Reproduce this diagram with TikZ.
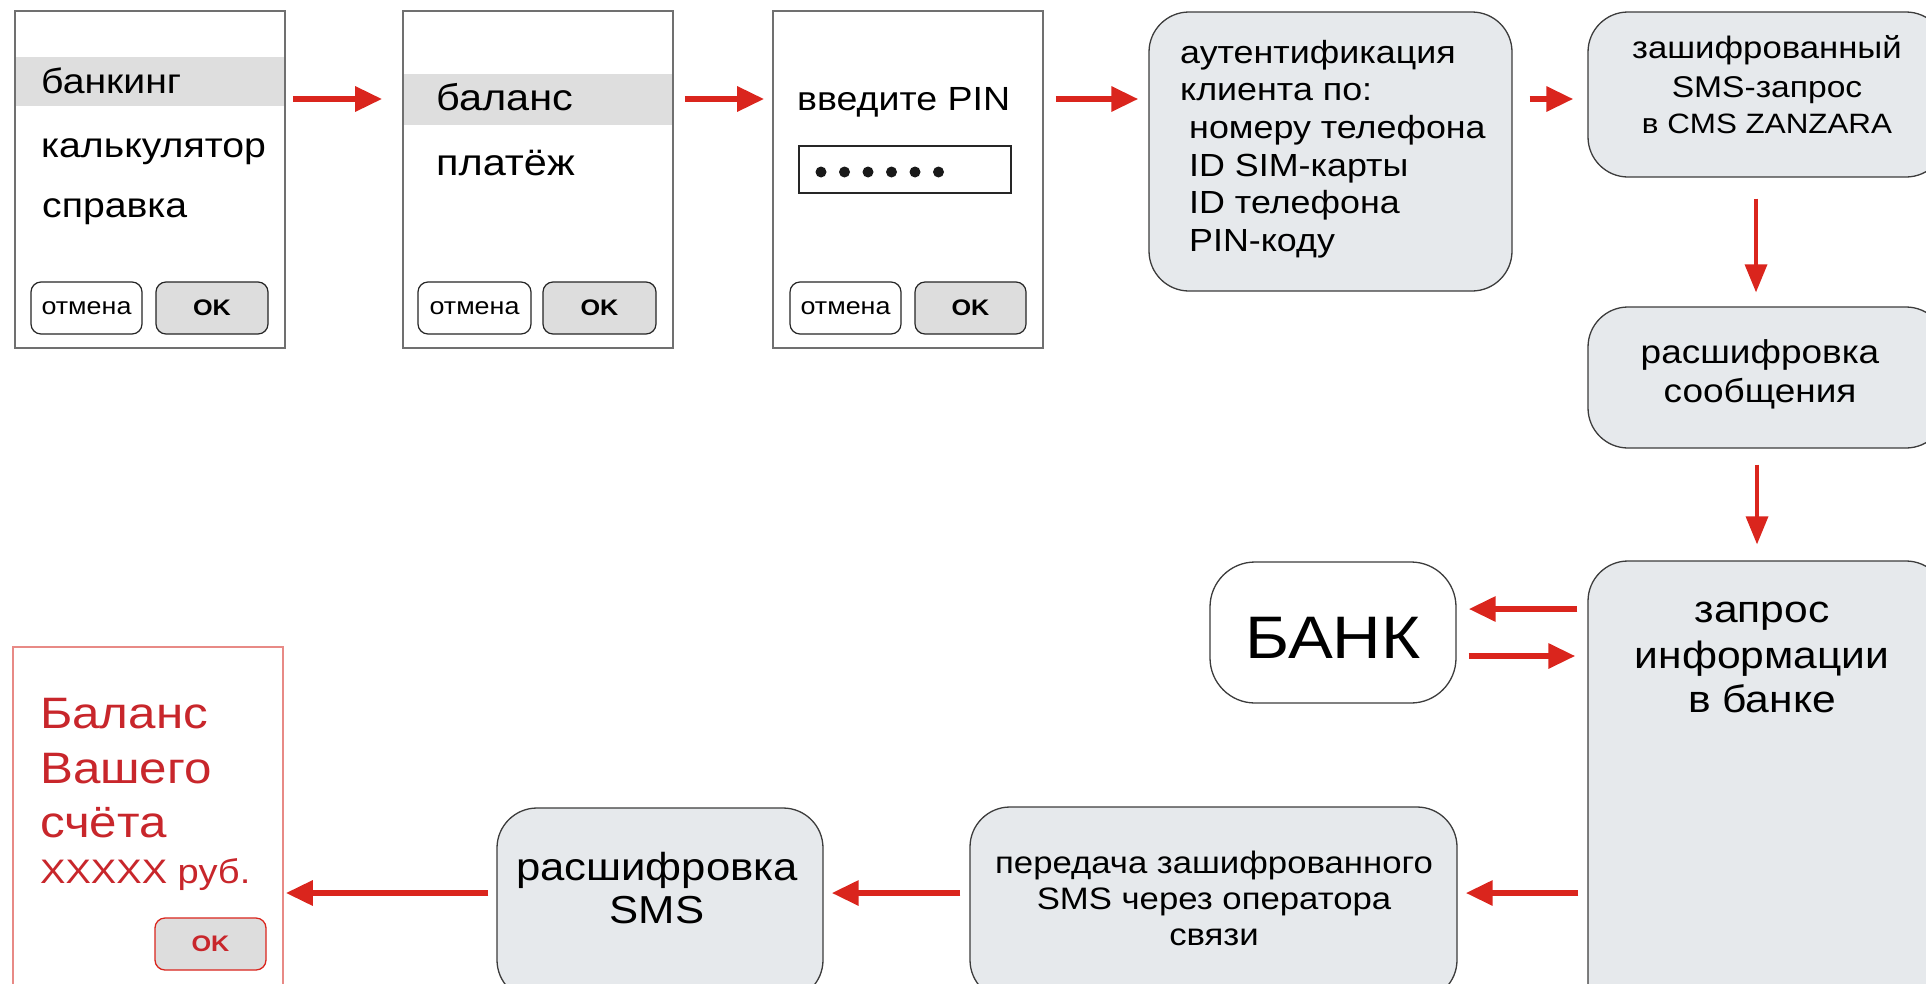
\documentclass[tikz,border=0pt]{standalone}
\usepackage{fontspec}
\setmainfont{Liberation Sans}[FakeStretch=1.12]
\usetikzlibrary{arrows.meta}
\definecolor{arrred}{HTML}{DA251D}
\definecolor{boxfill}{HTML}{E6E9EC}
\definecolor{boxline}{HTML}{3C3C3C}
\definecolor{scrgray}{HTML}{707070}
\definecolor{hlgray}{HTML}{DEDEDE}
\definecolor{okfill}{HTML}{DDDDDD}
\definecolor{balred}{HTML}{C8262B}
\definecolor{balborder}{HTML}{E88A86}
\newcommand{\fs}[1]{\fontsize{#1}{#1}\selectfont}
\begin{document}
\begin{tikzpicture}[x=1pt,y=-1pt,
  screen/.style={draw=scrgray, line width=1.6pt, fill=white, rectangle, inner sep=0pt, minimum width=270pt, minimum height=337pt},
  proc/.style={draw=boxline, line width=1.3pt, fill=boxfill, rounded corners=40pt, inner sep=0pt},
  btn/.style={draw=black!85, line width=1.2pt, fill=white, rounded corners=10pt, minimum height=52pt, inner sep=0pt, font=\fs{24}},
  okbtn/.style={btn, fill=okfill, font=\fs{22.5}\bfseries},
  txt/.style={inner sep=0pt, anchor=base west},
  ctxt/.style={inner sep=0pt, anchor=base},
  arr/.style={draw=arrred, line width=6pt, -{Triangle[length=27pt,width=24pt]}},
  varr/.style={draw=arrred, line width=3.5pt, -{Triangle[length=28pt,width=22pt]}}
]
\useasboundingbox (0,0) rectangle (1926,983);
\clip (0,0) rectangle (1926,983);

% ---------- screen 1 ----------
\node[screen] (s1) at (150,179.5) {};
\fill[hlgray] (15.8,57) rectangle (284.2,106);
\node[txt, font=\fs{35}] (s1a) at (41,93) {банкинг};
\node[txt, font=\fs{35}] (s1b) at (41,157) {калькулятор};
\node[txt, font=\fs{35}] (s1c) at (42,217) {справка};
\node[btn, minimum width=111pt] (s1c1) at (86.5,308) {отмена};
\node[okbtn, minimum width=112pt] (s1ok) at (212,308) {OK};

% ---------- screen 2 ----------
\node[screen] (s2) at (538,179.5) {};
\fill[hlgray] (403.8,74) rectangle (672.2,125);
\node[txt, font=\fs{37}] (s2a) at (436,110) {баланс};
\node[txt, font=\fs{37}] (s2b) at (436,175) {платёж};
\node[btn, minimum width=113pt] (s2c1) at (474.5,308) {отмена};
\node[okbtn, minimum width=113pt] (s2ok) at (599.5,308) {OK};

% ---------- screen 3 ----------
\node[screen] (s3) at (908,179.5) {};
\node[txt, font=\fs{33.5}] (s3a) at (797,110) {введите PIN};
\node[draw=black!85, line width=1.5pt, inner sep=0pt, minimum width=212pt, minimum height=47pt] (pin) at (905,169.5) {};
\foreach \i/\x in {1/821,2/844.5,3/868,4/891.5,5/915,6/938.5}
  \fill[black!90] (\x,172) circle (5.5pt);
\node[btn, minimum width=111pt] (s3c1) at (845.5,308) {отмена};
\node[okbtn, minimum width=111pt] (s3ok) at (970.5,308) {OK};

% ---------- authentication ----------
\node[proc, minimum width=363pt, minimum height=279pt] (auth) at (1330.5,151.5) {};
\node[txt, font=\fs{32}] (au1) at (1180,63) {аутентификация};
\node[txt, font=\fs{32}] (au2) at (1180,100) {клиента по:};
\node[txt, font=\fs{32}] (au3) at (1189,138) {номеру телефона};
\node[txt, font=\fs{32}] (au4) at (1189,176) {ID SIM-карты};
\node[txt, font=\fs{32}] (au5) at (1189,213) {ID телефона};
\node[txt, font=\fs{32}] (au6) at (1189,251) {PIN-коду};

% ---------- encrypted SMS ----------
\node[proc, minimum width=358pt, minimum height=165pt] (enc) at (1767,94.5) {};
\node[ctxt, font=\fs{31}] (en1) at (1767,58) {зашифрованный};
\node[ctxt, font=\fs{30}] (en2) at (1767,97) {SMS-запрос};
\node[ctxt, font=\fs{28}] (en3) at (1767,133) {в CMS ZANZARA};

% ---------- decrypt message ----------
\node[proc, minimum width=358pt, minimum height=141pt] (dec) at (1767,377.5) {};
\node[ctxt, font=\fs{33}] (de1) at (1760,363) {расшифровка};
\node[ctxt, font=\fs{33}] (de2) at (1760,402) {сообщения};

% ---------- bank request ----------
\node[proc, minimum width=358pt, minimum height=540pt] (req) at (1767,831) {};
\node[ctxt, font=\fs{38}] (rq1) at (1762,622) {запрос};
\node[ctxt, font=\fs{38}] (rq2) at (1762,668) {информации};
\node[ctxt, font=\fs{38}] (rq3) at (1762,712) {в банке};

% ---------- bank ----------
\node[draw=boxline, line width=1.3pt, fill=white, rounded corners=45pt, inner sep=0pt,
      minimum width=246pt, minimum height=141pt] (bank) at (1333,632.5) {};
\node[ctxt, font=\fs{60}] (bk) at (1333,658) {БАНК};

% ---------- transmission ----------
\node[proc, minimum width=487pt, minimum height=193pt] (tr) at (1213.5,903.5) {};
\node[ctxt, font=\fs{31}] (tr1) at (1214,873) {передача зашифрованного};
\node[ctxt, font=\fs{31}] (tr2) at (1214,909) {SMS через оператора};
\node[ctxt, font=\fs{31}] (tr3) at (1214,945) {связи};

% ---------- decrypt SMS ----------
\node[proc, minimum width=326pt, minimum height=192pt] (ds) at (660,904) {};
\node[ctxt, font=\fs{39}] (ds1) at (657,880) {расшифровка};
\node[ctxt, font=\fs{39}] (ds2) at (657,923) {SMS};

% ---------- balance screen ----------
\node[draw=balborder, line width=1.5pt, fill=white, inner sep=0pt,
      minimum width=270pt, minimum height=343pt] (bal) at (148,818.5) {};
\node[txt, font=\fs{44}, text=balred] (bl1) at (40,728) {Баланс};
\node[txt, font=\fs{44}, text=balred] (bl2) at (40,783) {Вашего};
\node[txt, font=\fs{44}, text=balred] (bl3) at (40,837) {счёта};
\node[txt, font=\fs{34}, text=balred] (bl4) at (40,883) {XXXXX руб.};
\node[draw=arrred, line width=1.3pt, fill=okfill, rounded corners=10pt, inner sep=0pt,
      minimum width=111pt, minimum height=52pt, font=\fs{22.5}\bfseries, text=balred] (balok) at (210.5,944) {OK};

% ---------- arrows ----------
\draw[arr, shorten <=7pt, shorten >=20pt] (s1.east |- 0,99) -- (s2.west |- 0,99);
\draw[arr, shorten <=11pt, shorten >=8pt] (s2.east |- 0,99) -- (s3.west |- 0,99);
\draw[arr, shorten <=12pt, shorten >=10pt] (s3.east |- 0,99) -- (auth.west |- 0,99);
\draw[arr, shorten <=17pt, shorten >=14pt] (auth.east |- 0,99) -- (enc.west |- 0,99);
\draw[varr, shorten <=21pt, shorten >=14pt] (enc.south -| 1756,0) -- (dec.north -| 1756,0);
\draw[varr, shorten <=16pt, shorten >=16pt] (dec.south -| 1757,0) -- (req.north -| 1757,0);
\draw[arr, shorten <=10pt, shorten >=12pt] (req.west |- 0,609) -- (bank.east |- 0,609);
\draw[arr, shorten <=12pt, shorten >=12pt] (bank.east |- 0,656) -- (req.west |- 0,656);
\draw[arr, shorten <=9pt, shorten >=8pt] (req.west |- 0,893) -- (tr.east |- 0,893);
\draw[arr, shorten <=9pt, shorten >=8pt] (tr.west |- 0,893) -- (ds.east |- 0,893);
\draw[arr, shorten <=8pt, shorten >=2pt] (ds.west |- 0,893) -- (bal.east |- 0,893);
\end{tikzpicture}
\end{document}
